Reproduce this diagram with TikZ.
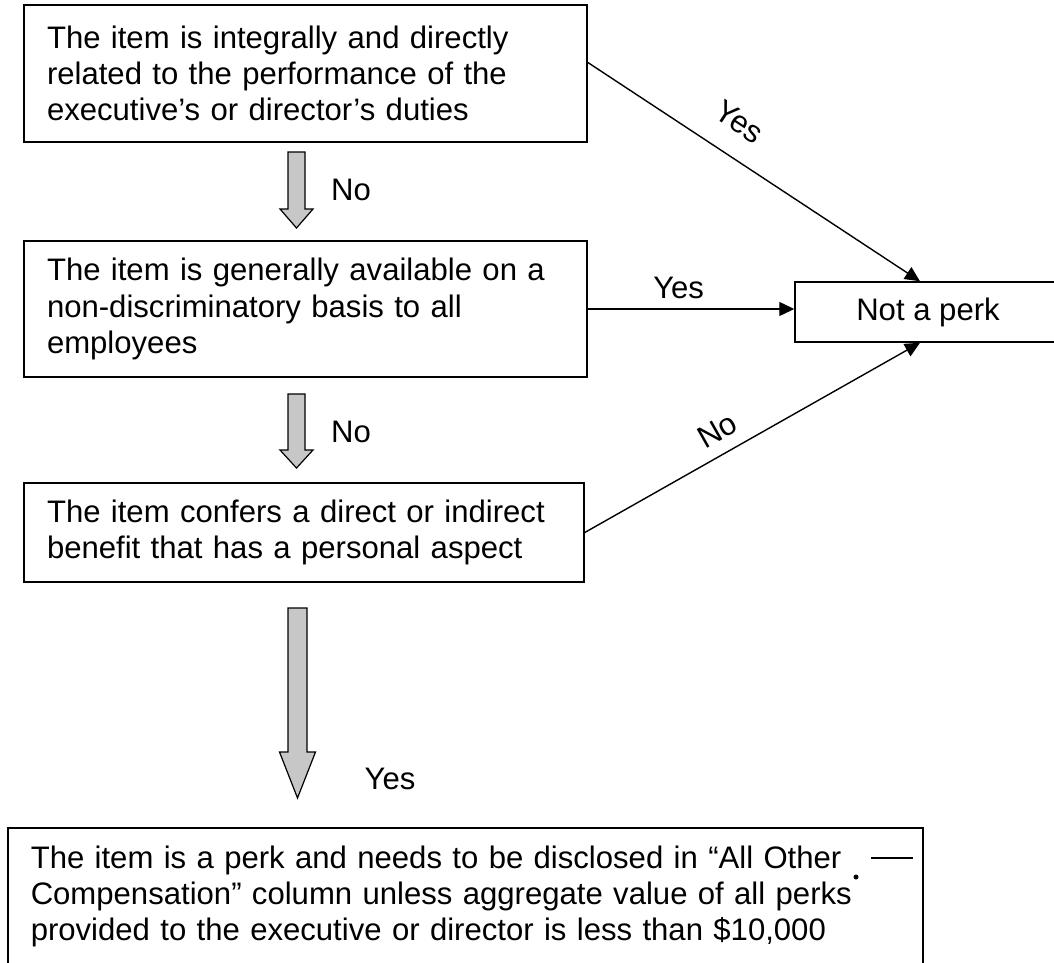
\documentclass[tikz,border=0pt]{standalone}
\usepackage{fontspec}
\setmainfont{Liberation Sans}
\usetikzlibrary{arrows.meta,calc}
\tikzset{
  box/.style={draw, line width=1.5pt, inner xsep=23pt, inner ysep=0pt, align=left, anchor=center},
  conn/.style={line width=1.4pt, -{Triangle[length=15pt,width=14pt]}},
  lbl/.style={inner sep=0pt},
  blk/.style={draw, line width=1.2pt, fill=black!22},
}
% #1 top coordinate, #2 tip coordinate, #3 head length, #4 head half width, #5 shaft half width
\newcommand{\blockarr}[5]{%
  \draw[blk] ($(#1)+(-#5,0)$) -- ($(#1)+(#5,0)$) -- ($(#2)+(#5,-#3)$) -- ($(#2)+(#4,-#3)$)
    -- (#2) -- ($(#2)+(-#4,-#3)$) -- ($(#2)+(-#5,-#3)$) -- cycle;}
\begin{document}
\begin{tikzpicture}[x=1pt,y=-1pt,font={\fontsize{31.1pt}{36.3pt}\selectfont}]
\useasboundingbox (0,0) rectangle (1054,962);
\fill[white] (0,0) rectangle (1054,962);
\clip (0,0) rectangle (1054,962);

\node[box, text width=517pt, minimum height=137pt] (b1) at (305.5,73.5)
  {The item is integrally and directly\\related to the performance of the\\executive’s or director’s duties};
\node[box, text width=517pt, minimum height=136pt] (b2) at (305.5,309)
  {The item is generally available on a\\non-discriminatory basis to all\\employees};
\node[box, text width=514pt, minimum height=99pt] (b3) at (304,532.5)
  {The item confers a direct or indirect\\benefit that has a personal aspect};
\node[draw, line width=1.5pt, minimum width=266pt, minimum height=60pt, inner sep=0pt] (nap) at (928,312) {Not a perk};
\node[box, text width=869pt, inner ysep=18pt, anchor=north west] (b5) at (7,827)
  {The item is a perk and needs to be disclosed in “All Other\\Compensation” column unless aggregate value of all perks\\provided to the executive or director is less than \$10,000};

\coordinate (b1out) at ($(b1.north east)!0.42!(b1.south east)$);
\coordinate (napt) at ($(nap.north)+(-8,0)$);
\coordinate (napb) at ($(nap.south)+(-8,0)$);

\draw[conn] (b1out) -- node[lbl, sloped, above=22pt, pos=0.4] (ly1) {Yes} (napt);
\draw[conn] (b2.east) -- node[lbl, above=10pt, pos=0.44] (ly2) {Yes} (b2.east -| nap.west);
\draw[conn] (b3.east) -- node[lbl, sloped, above=12pt, pos=0.43] (ln3) {No} (napb);

\coordinate (a1t) at (296.5,152); \coordinate (a1h) at (296.5,228);
\coordinate (a2t) at (296.5,394); \coordinate (a2h) at (296.5,468);
\coordinate (a3t) at (297.5,608); \coordinate (a3h) at (297.5,798);
\blockarr{a1t}{a1h}{19}{16.5}{8.5}
\blockarr{a2t}{a2h}{18}{16.5}{8.5}
\blockarr{a3t}{a3h}{46}{18}{9.5}

\node[lbl] (ln1) at (351,190) {No};
\node[lbl] (ln2) at (351,432) {No};
\node[lbl] (ly3) at (390,779) {Yes};

\fill (856,877) circle (2.5pt);
\draw[line width=1.5pt] (871,858) -- (913,858);
\end{tikzpicture}
\end{document}
